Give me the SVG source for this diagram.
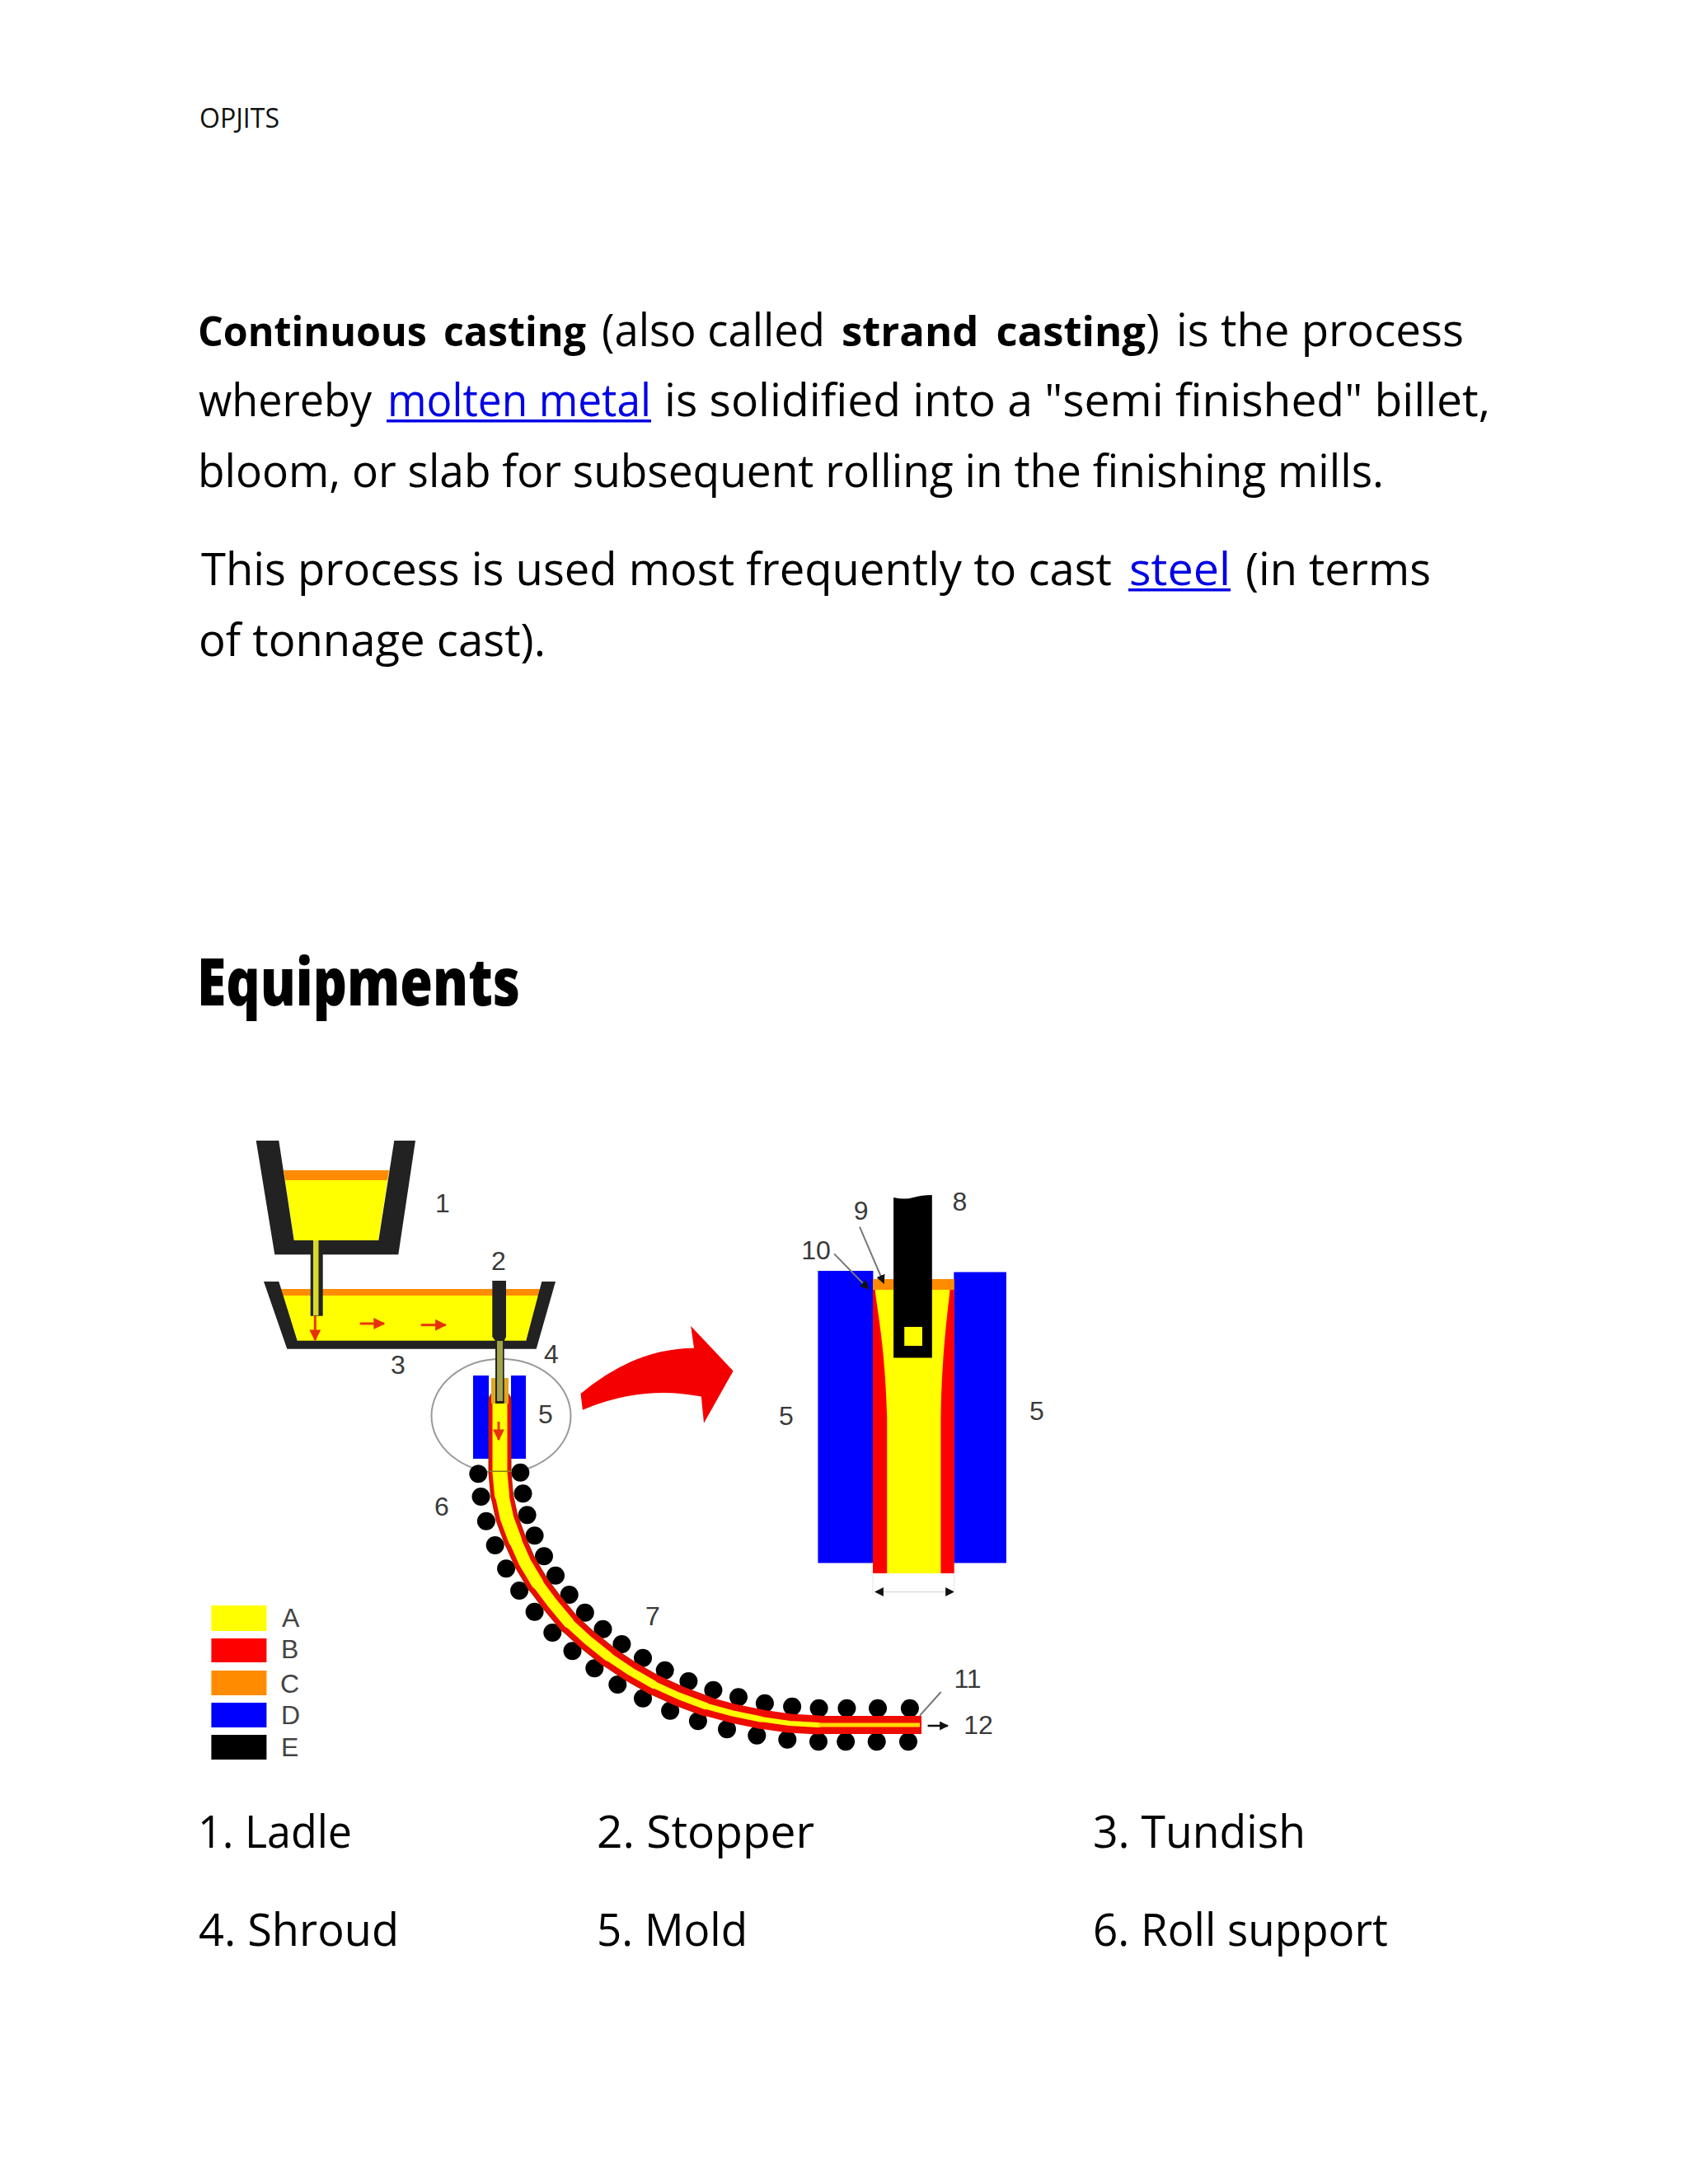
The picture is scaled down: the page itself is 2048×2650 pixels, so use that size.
<svg xmlns="http://www.w3.org/2000/svg" width="2048" height="2650" viewBox="0 0 2048 2650">
<style>
text{font-family:"Open Sans","Noto Sans","Liberation Sans",sans-serif;fill:#000}
.b{font-size:55px}
.bd{font-size:51px;font-weight:700;word-spacing:8px}
.li{font-size:55px;fill:#0000e6}
.h{font-size:80px;font-weight:800}
.hd{font-size:33px;fill:#111}
.l{font-family:"Liberation Sans",Arial,sans-serif;font-size:32px;fill:#3a3a3a;text-anchor:middle}
.lg{font-family:"Liberation Sans",Arial,sans-serif;font-size:32px;fill:#444}
.dk{fill:#222}
.y{fill:#ff0}
.o{fill:#ff8c00}
.bl{fill:#00f}
.r{fill:#f00}
.k{fill:#000}
.ra{stroke:#e8380c;stroke-width:3;fill:none;marker-end:url(#mr)}
.ld{stroke:#777;stroke-width:2;fill:none}
.sr path{fill:none;stroke:#ee0c00;stroke-linejoin:round;stroke-linecap:round}
.se path{fill:none;stroke:#a82800;stroke-linejoin:round;stroke-linecap:round}
.sy path{fill:none;stroke:#ff0;stroke-linejoin:round;stroke-linecap:round}
</style>
<defs>
<marker id="mr" viewBox="0 0 10 10" refX="9" refY="5" markerWidth="14" markerHeight="14" markerUnits="userSpaceOnUse" orient="auto"><path d="M0 0L10 5L0 10Z" fill="#e8300c"/></marker>
<marker id="mk" viewBox="0 0 10 10" refX="9" refY="5" markerWidth="11" markerHeight="11" markerUnits="userSpaceOnUse" orient="auto"><path d="M0 0L10 5L0 10Z" fill="#111"/></marker>
<circle id="roll" r="11" fill="#000"/>
</defs>
<rect width="2048" height="2650" fill="#fff"/>

<g id="page-text">
<text class="hd" x="242" y="155" textLength="97" lengthAdjust="spacingAndGlyphs">OPJITS</text>
<text class="bd" x="240" y="420" textLength="471" lengthAdjust="spacingAndGlyphs">Continuous casting</text>
<text class="b" x="730" y="420" textLength="271" lengthAdjust="spacingAndGlyphs">(also called</text>
<text class="bd" x="1021" y="420" textLength="369" lengthAdjust="spacingAndGlyphs">strand casting</text>
<text class="b" x="1390" y="420" textLength="17" lengthAdjust="spacingAndGlyphs">)</text>
<text class="b" x="1427" y="420" textLength="349" lengthAdjust="spacingAndGlyphs">is the process</text>
<text class="b" x="241" y="505" textLength="210" lengthAdjust="spacingAndGlyphs">whereby</text>
<text class="li" x="470" y="505" textLength="320" lengthAdjust="spacingAndGlyphs">molten metal</text>
<rect x="469" y="509" width="321" height="3.5" fill="#0000e6"/>
<text class="b" x="806" y="505" textLength="1002" lengthAdjust="spacingAndGlyphs">is solidified into a "semi finished" billet,</text>
<text class="b" x="240" y="591" textLength="1439" lengthAdjust="spacingAndGlyphs">bloom, or slab for subsequent rolling in the finishing mills.</text>
<text class="b" x="244" y="710" textLength="1105" lengthAdjust="spacingAndGlyphs">This process is used most frequently to cast</text>
<text class="li" x="1370" y="710" textLength="123" lengthAdjust="spacingAndGlyphs">steel</text>
<rect x="1369" y="714" width="124" height="3.5" fill="#0000e6"/>
<text class="b" x="1511" y="710" textLength="225" lengthAdjust="spacingAndGlyphs">(in terms</text>
<text class="b" x="241" y="796" textLength="421" lengthAdjust="spacingAndGlyphs">of tonnage cast).</text>
<text class="h" x="239" y="1220" textLength="392" lengthAdjust="spacingAndGlyphs">Equipments</text>
<text class="b" x="240" y="2242" textLength="187" lengthAdjust="spacingAndGlyphs">1. Ladle</text>
<text class="b" x="724" y="2242" textLength="264" lengthAdjust="spacingAndGlyphs">2. Stopper</text>
<text class="b" x="1326" y="2242" textLength="258" lengthAdjust="spacingAndGlyphs">3. Tundish</text>
<text class="b" x="241" y="2361" textLength="243" lengthAdjust="spacingAndGlyphs">4. Shroud</text>
<text class="b" x="724" y="2361" textLength="183" lengthAdjust="spacingAndGlyphs">5. Mold</text>
<text class="b" x="1326" y="2361" textLength="358" lengthAdjust="spacingAndGlyphs">6. Roll support</text>
</g>

<ellipse id="mold-circle" cx="608" cy="1718" rx="84.5" ry="69" fill="none" stroke="#999" stroke-width="2"/>

<g id="rolls">
<use href="#roll" x="631.3" y="1786.7"/><use href="#roll" x="634.5" y="1812.3"/><use href="#roll" x="639.6" y="1838.3"/><use href="#roll" x="648.6" y="1863.3"/><use href="#roll" x="660" y="1888.3"/><use href="#roll" x="674" y="1911.7"/><use href="#roll" x="690.7" y="1935"/><use href="#roll" x="709.8" y="1956.7"/><use href="#roll" x="731.5" y="1976.7"/><use href="#roll" x="754.4" y="1995"/><use href="#roll" x="780" y="2011.7"/><use href="#roll" x="806.7" y="2026.7"/><use href="#roll" x="835.4" y="2040"/><use href="#roll" x="865.4" y="2050.7"/><use href="#roll" x="896" y="2059.3"/><use href="#roll" x="927.9" y="2066.7"/><use href="#roll" x="961.1" y="2070.7"/><use href="#roll" x="993.6" y="2072.7"/><use href="#roll" x="1027.4" y="2072.7"/><use href="#roll" x="1065" y="2072.7"/><use href="#roll" x="1103.9" y="2072.7"/>
<use href="#roll" x="580.3" y="1788.3"/><use href="#roll" x="583.5" y="1816"/><use href="#roll" x="589.9" y="1845.7"/><use href="#roll" x="600.7" y="1875"/><use href="#roll" x="614.1" y="1903.3"/><use href="#roll" x="630.1" y="1930"/><use href="#roll" x="648.6" y="1955.7"/><use href="#roll" x="670.3" y="1981"/><use href="#roll" x="694.5" y="2003.3"/><use href="#roll" x="721.3" y="2024.3"/><use href="#roll" x="749.3" y="2044"/><use href="#roll" x="780" y="2060.7"/><use href="#roll" x="813.1" y="2075.7"/><use href="#roll" x="846.9" y="2088.3"/><use href="#roll" x="882" y="2098.3"/><use href="#roll" x="918.3" y="2105.7"/><use href="#roll" x="955.3" y="2110.7"/><use href="#roll" x="993" y="2113.3"/><use href="#roll" x="1026.1" y="2113.3"/><use href="#roll" x="1063.7" y="2113.3"/><use href="#roll" x="1102" y="2113.3"/>
</g>

<g id="mold-small">
<rect class="bl" x="574" y="1669" width="19" height="101"/>
<rect class="bl" x="620" y="1669" width="18" height="101"/>
</g>

<g id="strand">
<g class="se">
<path stroke-width="28" d="M606.5 1700V1787L609 1814"/>
<path stroke-width="27.5" d="M609 1814L615 1842L625 1869"/>
<path stroke-width="27" d="M625 1869L637 1896L652 1921"/>
<path stroke-width="26.5" d="M652 1921L670 1945L690 1969"/>
<path stroke-width="26" d="M690 1969L713 1990L738 2010"/>
<path stroke-width="25.5" d="M738 2010L765 2028L793 2044"/>
<path stroke-width="25" d="M793 2044L824 2058L856 2070"/>
</g>
<g class="sr">
<path stroke-width="25" d="M606.5 1700V1787L609 1814"/>
<path stroke-width="25" d="M609 1814L615 1842L625 1869"/>
<path stroke-width="24.5" d="M625 1869L637 1896L652 1921"/>
<path stroke-width="24.5" d="M652 1921L670 1945L690 1969"/>
<path stroke-width="24" d="M690 1969L713 1990L738 2010"/>
<path stroke-width="24" d="M738 2010L765 2028L793 2044"/>
<path stroke-width="24" d="M793 2044L824 2058L856 2070"/>
<path stroke-width="23.5" d="M856 2070L889 2079L923 2086"/>
<path stroke-width="23" d="M923 2086L958 2091L993 2093"/>
<path stroke-width="22" stroke-linecap="butt" style="stroke-linecap:butt" d="M993 2093H1118"/>
</g>
<g class="sy">
<path stroke-width="18" d="M606.5 1703V1787L609 1814"/>
<path stroke-width="16.5" d="M609 1814L615 1842L625 1869"/>
<path stroke-width="15" d="M625 1869L637 1896L652 1921"/>
<path stroke-width="13" d="M652 1921L670 1945L690 1969"/>
<path stroke-width="11.5" d="M690 1969L713 1990L738 2010"/>
<path stroke-width="10" d="M738 2010L765 2028L793 2044"/>
<path stroke-width="8.5" d="M793 2044L824 2058L856 2070"/>
<path stroke-width="7" d="M856 2070L889 2079L923 2086"/>
<path stroke-width="6" d="M923 2086L958 2091L993 2093"/>
<path stroke-width="5" stroke="#ffd000" style="stroke:#ffd800;stroke-linecap:butt" d="M993 2093H1116"/>
</g>
<rect x="596" y="1672" width="21" height="31" fill="#e0a820"/>
<rect x="593" y="1784.5" width="28" height="1.5" fill="#8a7a20"/>
</g>

<g id="ladle">
<path class="y" d="M344 1420H472L459 1505H357Z"/>
<path class="o" d="M344 1420H472L470 1432H346Z"/>
<path class="dk" d="M310.7 1384H338.3L356.7 1505H459.3L478.3 1384H504L483.3 1522.3H333.3Z"/>
</g>

<g id="tundish">
<path class="y" d="M340 1564H656L638 1627H361Z"/>
<path class="o" d="M340 1564H656L654 1572H342Z"/>
<path class="dk" d="M320 1555H338.3L360.7 1626.7H638.3L657.3 1555H674L650.7 1636.7H348.3Z"/>
</g>

<g id="ladle-nozzle">
<rect x="376.7" y="1505" width="15" height="91.7" fill="#222"/>
<rect x="380" y="1505" width="6.5" height="91" fill="#d8d828"/>
</g>

<g id="stopper-shroud">
<path class="dk" d="M597.3 1554H614V1622L611.7 1627H601L597.3 1622Z"/>
<rect x="601" y="1625" width="10.7" height="78" fill="#222"/>
<rect x="603" y="1627" width="7" height="73" fill="#a3a34a"/>
</g>

<g id="big-arrow">
<path d="M704.5 1691Q770 1636 842 1635.7L838.2 1609L889.6 1663.6L854 1726.8L850.8 1694.6Q780 1680 706.9 1710.7Z" fill="#f40000"/>
</g>

<g id="mold-detail">
<rect class="bl" x="992.4" y="1542" width="67" height="354.5"/>
<rect class="bl" x="1157.3" y="1543.5" width="63.6" height="353"/>
<rect class="r" x="1059" y="1552" width="98.7" height="357"/>
<path class="y" d="M1061.6 1565H1152.5C1149 1600 1143 1640 1141.4 1720V1909H1076.2V1720C1074 1640 1066 1600 1061.6 1565Z"/>
<rect class="o" x="1059" y="1552" width="98.7" height="13"/>
<path class="k" d="M1084.1 1453Q1098 1456 1108 1453T1130.8 1450V1647.5H1084.1Z"/>
<rect class="y" x="1097.2" y="1610" width="21.7" height="23"/>
</g>

<g id="legend">
<rect class="y" x="256.4" y="1948" width="67" height="31"/>
<rect class="r" x="256.4" y="1988" width="67" height="29"/>
<rect class="o" x="256.4" y="2027" width="67" height="30"/>
<rect class="bl" x="256.4" y="2066" width="67" height="30"/>
<rect class="k" x="256.4" y="2105" width="67" height="30"/>
<text class="lg" x="342" y="1974">A</text>
<text class="lg" x="341" y="2012">B</text>
<text class="lg" x="340" y="2054">C</text>
<text class="lg" x="341" y="2092">D</text>
<text class="lg" x="341" y="2131">E</text>
</g>

<g id="labels">
<text class="l" x="537" y="1471">1</text>
<text class="l" x="605" y="1541">2</text>
<text class="l" x="483" y="1667">3</text>
<text class="l" x="669" y="1654">4</text>
<text class="l" x="662" y="1727">5</text>
<text class="l" x="536" y="1839">6</text>
<text class="l" x="792" y="1972">7</text>
<text class="l" x="1164.4" y="1469">8</text>
<text class="l" x="1044.6" y="1480">9</text>
<text class="l" x="990" y="1528">10</text>
<text class="l" x="954" y="1729">5</text>
<text class="l" x="1258" y="1723">5</text>
<text class="l" x="1174" y="2048">11</text>
<text class="l" x="1187" y="2104">12</text>
</g>

<g id="connectors">
<path class="ra" d="M382.3 1597V1626"/>
<path class="ra" d="M436.7 1606H466"/>
<path class="ra" d="M510.7 1607.7H540.7"/>
<path class="ra" d="M605 1725V1747"/>
<path class="ld" d="M1043 1488.6L1072.3 1557" marker-end="url(#mk)"/>
<path class="ld" d="M1012.1 1521.4L1053.7 1564" marker-end="url(#mk)"/>
<path class="ld" d="M1141.6 2053L1116 2081.7"/>
<path d="M1125.6 2094H1150" stroke="#111" stroke-width="2.5" fill="none" marker-end="url(#mk)"/>
<path d="M1110 1931.5H1062" stroke="#ddd" stroke-width="1.5" fill="none" marker-end="url(#mk)"/>
<path d="M1110 1931.5H1157" stroke="#ddd" stroke-width="1.5" fill="none" marker-end="url(#mk)"/>
<path d="M1059 1909V1935M1157.7 1909V1935" stroke="#eee" stroke-width="1.5" fill="none"/>
</g>
</svg>
